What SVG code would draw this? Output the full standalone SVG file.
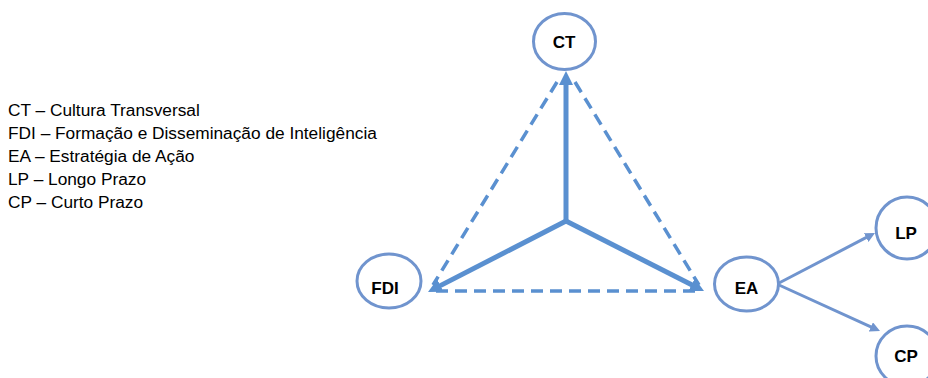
<svg xmlns="http://www.w3.org/2000/svg" width="928" height="378" viewBox="0 0 928 378">
<defs>
<style>
.node{fill:#fff;stroke:#7094CE;stroke-width:3}
.lbl{font-family:"Liberation Sans",Arial,sans-serif;font-weight:bold;font-size:17px;fill:#000;text-anchor:middle}
.leg{font-family:"Liberation Sans",Arial,sans-serif;font-size:17.3px;fill:#000}
.thick{stroke:#5A90D0;stroke-width:5;fill:none}
.dash{stroke:#5A90D0;stroke-width:3.5;fill:none;stroke-dasharray:12 7}
.thin{stroke:#7094CE;stroke-width:3;fill:none}
</style>
<marker id="ah" markerUnits="userSpaceOnUse" markerWidth="14" markerHeight="14" refX="4" refY="7" orient="auto" viewBox="0 0 14 14">
<path d="M0,0 L14,7 L0,14 z" fill="#5A90D0"/>
</marker>
<marker id="as" markerUnits="userSpaceOnUse" markerWidth="10" markerHeight="10" refX="3" refY="5" orient="auto" viewBox="0 0 10 10">
<path d="M0,0 L10,5 L0,10 z" fill="#7094CE"/>
</marker>
</defs>
<g id="legend">
<text class="leg" x="8" y="116">CT – Cultura Transversal</text>
<text class="leg" x="8" y="139">FDI – Formação e Disseminação de Inteligência</text>
<text class="leg" x="8" y="162">EA – Estratégia de Ação</text>
<text class="leg" x="8" y="185">LP – Longo Prazo</text>
<text class="leg" x="8" y="208">CP – Curto Prazo</text>
</g>
<g id="connectors">
<line class="dash" x1="557" y1="82" x2="433" y2="285"/>
<line class="dash" x1="575" y1="82" x2="699" y2="285"/>
<line class="dash" x1="436" y1="291" x2="696" y2="291"/>
<line class="thick" x1="566" y1="221" x2="566" y2="81" marker-end="url(#ah)"/>
<line class="thick" x1="566" y1="221" x2="436.9" y2="287.4" marker-end="url(#ah)"/>
<line class="thick" x1="566" y1="221" x2="695.1" y2="286.5" marker-end="url(#ah)"/>
<line class="thin" x1="779" y1="283" x2="868.8" y2="236.2" marker-end="url(#as)"/>
<line class="thin" x1="779" y1="285" x2="873.6" y2="328.1" marker-end="url(#as)"/>
</g>
<g id="CT">
<ellipse class="node" cx="564.5" cy="41.5" rx="31" ry="28"/>
<text class="lbl" x="564" y="48">CT</text>
</g>
<g id="FDI">
<ellipse class="node" cx="389" cy="281" rx="32" ry="27"/>
<text class="lbl" x="385" y="294">FDI</text>
</g>
<g id="EA">
<ellipse class="node" cx="746.5" cy="284" rx="32" ry="27"/>
<text class="lbl" x="746.5" y="294">EA</text>
</g>
<g id="LP">
<ellipse class="node" cx="907" cy="228" rx="31" ry="31"/>
<text class="lbl" x="906" y="239">LP</text>
</g>
<g id="CP">
<ellipse class="node" cx="907" cy="356" rx="31" ry="30"/>
<text class="lbl" x="906" y="362">CP</text>
</g>
</svg>
